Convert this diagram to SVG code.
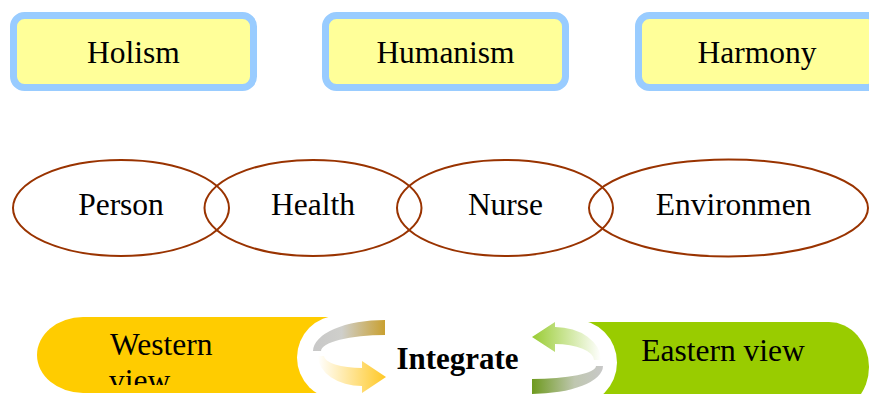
<svg xmlns="http://www.w3.org/2000/svg" width="869" height="394" viewBox="0 0 869 394">
<style>
.box{fill:#FFFF99;stroke:#99CCFF;stroke-width:7}
.ell{fill:none;stroke:#993300;stroke-width:2}
.t{font-family:"Liberation Serif","Times New Roman",serif;font-size:31.5px;fill:#000}
.c{text-anchor:middle}
.b{font-weight:bold;font-size:31px}
</style>
<defs>
<linearGradient id="gUL" x1="313" y1="0" x2="385" y2="0" gradientUnits="userSpaceOnUse"><stop offset="0" stop-color="#C8C8C8"/><stop offset="0.4" stop-color="#CFCFCB"/><stop offset="1" stop-color="#C9A030"/></linearGradient>
<linearGradient id="gLL" x1="318" y1="0" x2="386" y2="0" gradientUnits="userSpaceOnUse"><stop offset="0" stop-color="#FFFFFF"/><stop offset="1" stop-color="#FFC825"/></linearGradient>
<linearGradient id="gUR" x1="532" y1="0" x2="601" y2="0" gradientUnits="userSpaceOnUse"><stop offset="0" stop-color="#99CC33"/><stop offset="1" stop-color="#FFFFFF"/></linearGradient>
<linearGradient id="gLR" x1="532" y1="0" x2="603" y2="0" gradientUnits="userSpaceOnUse"><stop offset="0" stop-color="#6E9A1E"/><stop offset="0.6" stop-color="#BFC7B0"/><stop offset="1" stop-color="#C8C8C8"/></linearGradient>
<clipPath id="clipW"><rect x="37" y="317" width="300" height="68"/></clipPath>
</defs>
<rect width="869" height="394" fill="#FFFFFF"/>
<g id="box-holism"><rect class="box" x="13.5" y="15.5" width="240" height="72" rx="11"/><text class="t c" x="133.5" y="63">Holism</text></g>
<g id="box-humanism"><rect class="box" x="325.5" y="15.5" width="240" height="72" rx="11"/><text class="t c" x="445.5" y="63">Humanism</text></g>
<g id="box-harmony"><rect class="box" x="638.5" y="15.5" width="240" height="72" rx="11"/><text class="t c" x="757" y="63">Harmony</text></g>
<g id="node-person"><ellipse class="ell" cx="121" cy="208" rx="108" ry="48"/><text class="t c" x="121" y="215">Person</text></g>
<g id="node-health"><ellipse class="ell" cx="313" cy="208" rx="108.5" ry="48"/><text class="t c" x="313" y="215">Health</text></g>
<g id="node-nurse"><ellipse class="ell" cx="505" cy="208" rx="108" ry="48"/><text class="t c" x="505.5" y="215">Nurse</text></g>
<g id="node-environment"><ellipse class="ell" cx="728.5" cy="208" rx="139.5" ry="48.5"/><text class="t c" x="733.5" y="215">Environmen</text></g>
<g id="node-western"><path d="M83,317 H341 V393 H83 A46,38 0 0 1 83,317 Z" fill="#FFCC00"/><text class="t" x="110" y="355" clip-path="url(#clipW)">Western<tspan x="109" y="391">view</tspan></text></g>
<g id="node-eastern"><path d="M580,322 H829 A40,45 0 0 1 869,367 A40,45 0 0 1 829,412 H580 Z" fill="#99CC00"/><text class="t c" x="723" y="361">Eastern view</text></g>
<g id="node-integrate"><circle cx="339" cy="357.5" r="42" fill="#FFFFFF"/><circle cx="574" cy="362.5" r="43" fill="#FFFFFF"/><text class="t c b" x="457.5" y="369">Integrate</text></g>
<g id="connectors">
<path d="M385,320 A72,31 0 0 0 313,351 L321,351 A64,16 0 0 1 385,335 Z" fill="url(#gUL)"/>
<path d="M318,356 A44,30 0 0 0 362,386 L362,393 L386,377 L362,361 L362,368 A38,12 0 0 1 324,356 Z" fill="url(#gLL)"/>
<path d="M555,327 A46,33 0 0 1 601,360 L594,360 A39,16 0 0 0 555,344 L555,352 L532,337 L555,322 Z" fill="url(#gUR)"/>
<path d="M532,394 A71,28 0 0 0 603,366 L596,366 A64,13 0 0 1 532,379 Z" fill="url(#gLR)"/>
</g>
</svg>
